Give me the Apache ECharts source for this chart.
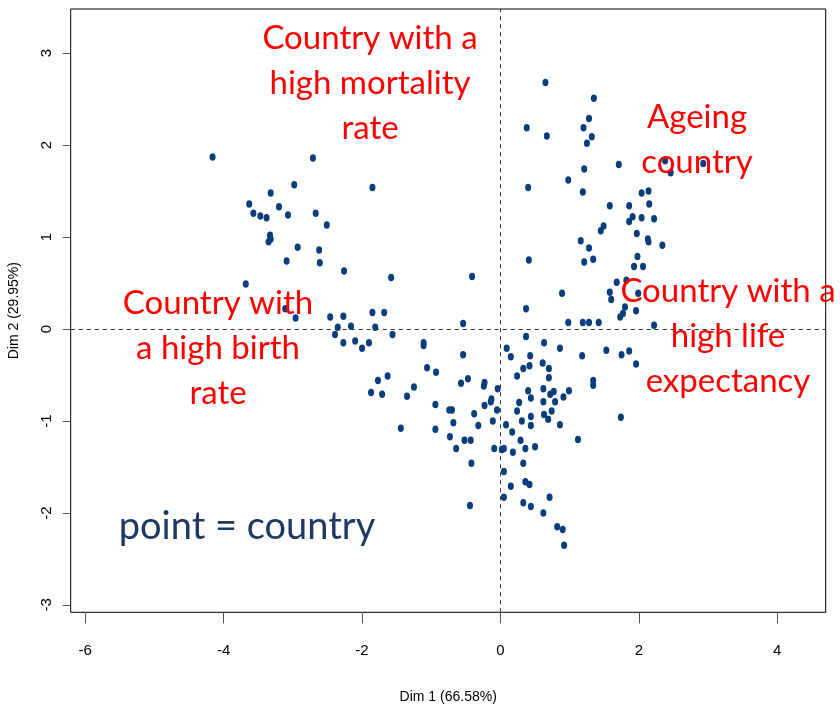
<!DOCTYPE html>
<html>
<head>
<meta charset="utf-8">
<style>
  html, body { margin: 0; padding: 0; background: #ffffff; }
  #chart { width: 840px; height: 708px; }
</style>
<script src="https://cdn.jsdelivr.net/npm/echarts@6/dist/echarts.min.js"></script>
</head>
<body>
<div id="chart"></div>
<script>
// Dim 1 coordinates of each country
const dim1 = [
  -4.16, -2.71, -2.98, -1.85, -3.32, -3.63, -3.20, -3.57, -3.47, -3.38,
  -3.07, -2.67, -2.51, -3.33, -3.32, -3.35, -2.93, -2.62, -2.61, -3.09,
  -2.26, -1.58, -3.68, -3.11, -2.96, -2.46, -2.27, -1.85, -1.68, -2.35,
  -2.16, -1.81, -2.39, -1.56, -0.54, -2.27, -2.10, -1.90, -2.00, -1.11,
  -1.11, -0.54, -1.06, -0.93, -1.77, -1.63, -1.87, -1.71, -1.35, -1.25,
  -0.57, -0.47, -0.23, -0.24, -0.04, -0.94, -0.74, -0.70, -0.13, -0.14,
  -0.23, -0.05, -0.38, -0.68, -0.32, -0.11, -1.44, -0.94, -0.73, -0.52,
  -0.43, -0.64, -0.09, -0.42, -0.44, -0.41,
  0.65, 1.35, 1.28, 0.38, 1.20, 0.67, 1.32, 1.25, 1.71, 2.38,
  2.46, 1.21, 0.98, 0.40, 1.19, 2.04, 2.14, 1.58, 1.86, 2.15,
  1.91, 1.86, 2.04, 2.22, 1.49, 1.45, 1.97, 2.13, 2.14, 2.34,
  1.16, 1.28, 0.41, 1.21, 1.34, 1.98, 1.93, 2.06, 1.68, 1.82,
  0.89, 1.58, 1.60, 1.99, 0.37, 1.80, 1.77, 1.73, 1.96, 0.98,
  1.19, 1.28, 1.42, 2.22, 0.37, 2.93,
  0.86, 1.18, 1.53, 1.75, 1.86, 1.96, 1.34, 1.34, 0.99, 0.91,
  1.74, 0.86, 1.12,
  0.09, 0.63, 0.15, 0.43, 0.33, 0.42, 0.61, 0.70, 0.24, 0.70,
  0.40, 0.62, 0.72, 0.77, 0.44, 0.62, 0.79, 0.27, 0.24, 0.74,
  0.63, 0.69, 0.44, 0.31, 0.44, 0.08, 0.17, 0.29, 0.36, 0.50,
  0.02, 0.05, 0.18, 0.33, 0.05, 0.36, 0.42, 0.15, 0.05, 0.71,
  0.33, 0.44, 0.62, 0.82, 0.90, 0.92
];
// Dim 2 coordinates of each country
const dim2 = [
  1.87, 1.86, 1.57, 1.54, 1.48, 1.36, 1.33, 1.26, 1.23, 1.21,
  1.24, 1.26, 1.13, 1.02, 0.98, 0.95, 0.89, 0.86, 0.72, 0.74,
  0.63, 0.56, 0.49, 0.22, 0.12, 0.13, 0.14, 0.18, 0.18, 0.02,
  0.03, 0.02, -0.06, -0.06, 0.06, -0.15, -0.13, -0.15, -0.21, -0.15,
  -0.18, -0.28, -0.42, -0.47, -0.56, -0.51, -0.69, -0.71, -0.73, -0.63,
  -0.59, -0.54, -0.58, -0.62, -0.65, -0.82, -0.88, -0.88, -0.76, -0.79,
  -0.83, -0.88, -0.92, -1.02, -1.05, -1.00, -1.08, -1.09, -1.17, -1.21,
  -1.21, -1.30, -1.30, -1.46, -1.92, 0.57,
  2.68, 2.51, 2.29, 2.19, 2.19, 2.10, 2.09, 2.02, 1.79, 1.83,
  1.70, 1.74, 1.62, 1.54, 1.49, 1.48, 1.50, 1.34, 1.34, 1.36,
  1.22, 1.17, 1.21, 1.20, 1.12, 1.07, 1.04, 0.98, 0.95, 0.91,
  0.96, 0.88, 0.75, 0.73, 0.76, 0.79, 0.68, 0.68, 0.51, 0.53,
  0.39, 0.40, 0.32, 0.39, 0.22, 0.24, 0.17, 0.13, 0.20, 0.07,
  0.07, 0.07, 0.07, 0.04, -0.08, 1.80,
  -0.21, -0.29, -0.23, -0.28, -0.24, -0.38, -0.56, -0.61, -0.67, -0.74,
  -0.96, -1.04, -1.20,
  -0.21, -0.15, -0.30, -0.29, -0.43, -0.40, -0.37, -0.43, -0.51, -0.53,
  -0.67, -0.65, -0.71, -0.68, -0.75, -0.79, -0.79, -0.80, -0.89, -0.89,
  -0.93, -0.98, -0.95, -1.00, -1.05, -1.04, -1.12, -1.21, -1.30, -1.28,
  -1.31, -1.30, -1.34, -1.46, -1.55, -1.66, -1.69, -1.71, -1.83, -1.83,
  -1.89, -1.93, -2.00, -2.15, -2.18, -2.35
];
const xTicks = [-6, -4, -2, 0, 2, 4];
const yTicks = [-3, -2, -1, 0, 1, 2, 3];
const xName = 'Dim 1 (66.58%)';
const yName = 'Dim 2 (29.95%)';
const annotations = [
  'Country with a\nhigh mortality\nrate',
  'Ageing\ncountry',
  'Country with\na high birth\nrate',
  'Country with a\nhigh life\nexpectancy'
];
const note = 'point = country';

const points = dim1.map((v, i) => [v, dim2[i]]);

const chart = echarts.init(document.getElementById('chart'), null, { renderer: 'canvas' });
const axisFont = 'Liberation Sans, Arial, sans-serif';
const redFont = 'Lato, "Open Sans", sans-serif';

const annPos = [
  { x: 370, y: 83 },
  { x: 697, y: 140 },
  { x: 218, y: 348 },
  { x: 728, y: 336 }
];

chart.setOption({
  animation: false,
  backgroundColor: '#ffffff',
  grid: {
    left: 70.7, top: 9, right: 14.3, bottom: 95.7,
    show: true, borderColor: '#000', borderWidth: 1,
    containLabel: false, outerBoundsMode: 'none'
  },
  xAxis: {
    type: 'value', min: -6.21, max: 4.70,
    splitLine: { show: false },
    axisLine: { show: false, onZero: false },
    axisTick: { show: true, inside: false, length: 11, customValues: xTicks, lineStyle: { color: '#555', width: 1 } },
    axisLabel: { customValues: xTicks, margin: 31, fontSize: 15, color: '#000', fontFamily: axisFont },
    name: xName, nameLocation: 'middle', nameGap: 78,
    nameTextStyle: { fontSize: 14, color: '#000', fontFamily: axisFont }
  },
  yAxis: {
    type: 'value', min: -3.08, max: 3.48,
    splitLine: { show: false },
    axisLine: { show: false, onZero: false },
    axisTick: { show: true, inside: false, length: 8, customValues: yTicks, lineStyle: { color: '#555', width: 1 } },
    axisLabel: { customValues: yTicks, rotate: 90, margin: 16, fontSize: 15, color: '#000', fontFamily: axisFont },
    name: yName, nameLocation: 'middle', nameGap: 50,
    nameTextStyle: { fontSize: 14, color: '#000', fontFamily: axisFont }
  },
  series: [{
    type: 'scatter',
    data: points,
    symbol: 'circle',
    symbolSize: [6, 7.5],
    itemStyle: { color: '#0a3d7c', opacity: 1 },
    emphasis: { disabled: true },
    silent: true,
    markLine: {
      silent: true,
      symbol: ['none', 'none'],
      label: { show: false },
      lineStyle: { type: [4, 4], color: '#333', width: 1 },
      emphasis: { disabled: true },
      data: [{ xAxis: 0 }, { yAxis: 0 }]
    },
    z: 2
  }],
  graphic: annotations.map((t, i) => ({
    type: 'text',
    x: annPos[i].x, y: annPos[i].y,
    z: 10,
    style: {
      text: t, fill: '#ff0000',
      font: '33px ' + redFont,
      align: 'center', verticalAlign: 'middle',
      lineHeight: 45
    }
  })).concat([{
    type: 'text', x: 247, y: 527, z: 10,
    style: {
      text: note, fill: '#203864',
      font: '38px ' + redFont,
      align: 'center', verticalAlign: 'middle'
    }
  }])
});
</script>
</body>
</html>
